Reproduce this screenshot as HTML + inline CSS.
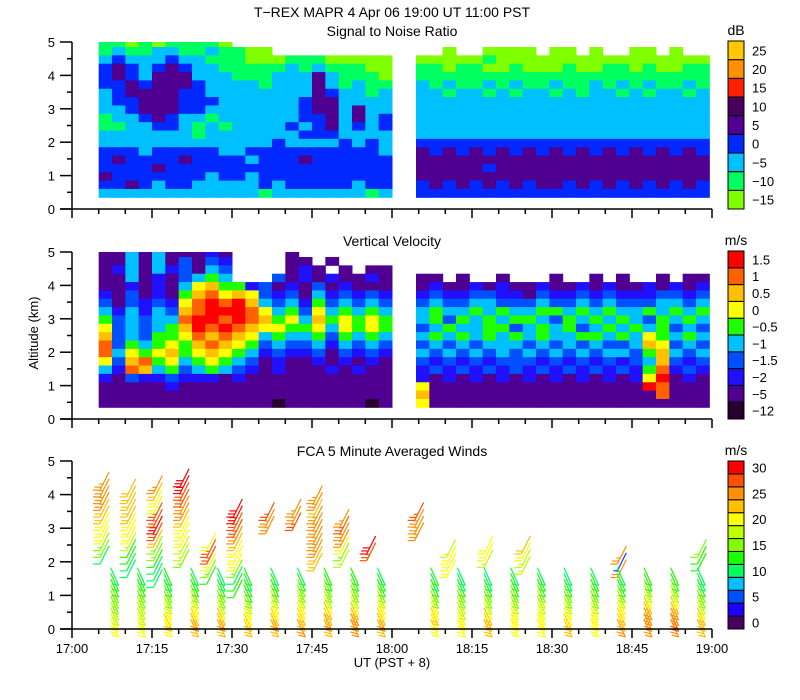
<!DOCTYPE html>
<html><head><meta charset="utf-8">
<style>
body{margin:0;background:#fff;}
svg{display:block;font-family:"Liberation Sans",Arial,sans-serif;}
text{fill:#000;}
</style></head>
<body>
<svg id="chart" width="800" height="700" viewBox="0 0 800 700" xmlns="http://www.w3.org/2000/svg">
<text x="392" y="17" font-size="14" text-anchor="middle">T−REX   MAPR   4 Apr 06   19:00 UT   11:00   PST</text>
<text x="392" y="36" font-size="14" text-anchor="middle">Signal to Noise Ratio</text>
<text x="392" y="246" font-size="14" text-anchor="middle">Vertical Velocity</text>
<text x="392" y="456" font-size="14" text-anchor="middle">FCA 5 Minute Averaged Winds</text>
<text transform="translate(38,333) rotate(-90)" font-size="13" text-anchor="middle">Altitude (km)</text>
<text x="392" y="667" font-size="13" text-anchor="middle">UT  (PST + 8)</text>
<g id="layer"></g>
</svg>
<script>
// ---- data ----
const xTickLabels = ["17:00","17:15","17:30","17:45","18:00","18:15","18:30","18:45","19:00"];
const yTickLabels = ["0","1","2","3","4","5"];
const snrLevels = ["−15","−10","−5","0","5","10","15","20","25"];
const snrColors = ["#80ff00","#00ff60","#00c0ff","#0028ff","#500090","#480060","#ff2000","#ff9000","#ffc800"];
const velLevels = ["−12","−5","−2","−1.5","−1","−0.5","0","0.5","1","1.5"];
const velColors = ["#280030","#500090","#2010ff","#0050ff","#00c0ff","#20ff00","#ffff00","#ffc000","#ff6000","#ff0000"];
const windLevels = ["0","5","10","15","20","25","30"];
const windColors = ["#480060","#2000ff","#0050ff","#00c0ff","#00ff60","#20ff00","#80ff00","#c0ff00","#ffff00","#ffc000","#ff9000","#ff5000","#ff0000"];

// heatmap grids: rows top (4.85 km) to bottom (0.35 km), each char a colour bin, 2.5-min columns from 17:05 (seg1) and 18:05 (seg2)
const snrSeg1 = [
"1101011110............",
"1211221121100.........",
"2322232211100011100000",
"3432343221111121211100",
"3432444222111222421110",
"3343444322221222421211",
"2344443322222222432212",
"2334443332222223442222",
"2234443322222223442422",
"1223432212222223342423",
"1122332121222232342323",
"2222222122222223332222",
"2222222222222322223232",
"3332333332233333333332",
"3433334333323334333333",
"3333433333333333333333",
"4333333323323333333333",
"3343233222223233333233",
"2222222222221222222212"];
const snrSeg2 = [
"......................",
"..0..0000.00.0..00.0..",
"0000010000000000000000",
"1101100100010011010011",
"1111111111111111111111",
"2121121211211212121121",
"2212212122121221212212",
"2222222222222222222222",
"2222222222222222222222",
"2222222222222222222222",
"2222222222222222222222",
"2222222222222222222222",
"3333333333333333333333",
"4343434343434343434343",
"4444444444444444444444",
"4444434444444444444444",
"4444444444444444444444",
"3434343434434343434343",
"3333333333333333333333"];
const velSeg1 = [
"1141411121....1.......",
"1141413132....11.1....",
"1241423143....121.1.11",
"1141213454...312121121",
"1121214675523121312111",
"2131215786763231423232",
"3132326898974342534343",
"4242437899986453645454",
"5343448998987564756565",
"6343457989876655646565",
"7343556878764544535454",
"8354565787653433424343",
"8465675676542322313232",
"6378564565431211212121",
"4287453454321211121211",
"2132232221211111111111",
"1111121111111111111111",
"1111111111111111111111",
"1111111111111011111101"];
const velSeg2 = [
"......................",
"......................",
"......................",
"11.1..1...1..1.1..1.11",
"1211212112112121121212",
"2322332213223232223323",
"3433443334334343334434",
"4544545445545454454545",
"4535454554354545435454",
"3454455345453454545343",
"4545454545445545465454",
"3434344434343433476343",
"4343434343434344357434",
"3232323332323232347323",
"2323232323232323258232",
"2121212121212121269121",
"6111111111111111198111",
"7111111111111111118111",
"6111111111111111111111"];

// wind barbs (minutes after 17:00, base altitude km, speeds m/s every 0.2 km)
const upperTimes = [6, 11, 16, 21, 26, 31, 37, 42, 46, 51, 56, 65, 71, 78, 85, 103, 118];
const upperBase = [2.2, 1.8, 1.5, 2.1, 1.6, 1.2, 3.1, 3.2, 2.0, 2.1, 2.3, 2.9, 1.8, 2.1, 1.9, 1.8, 2.0];
const upperSpeeds = [
[10,15,16,20,22,22,24,24,25,26,26,25],
[10,10,13,14,18,20,22,22,23,23,24,23,24],
[10,10,12,14,16,17,24,28,30,29,28,20,22,24,25],
[17,18,18,20,21,22,24,26,26,28,29,30,30],
[14,16,22,28,28,22],
[13,14,10,16,20,22,22,24,26,28,29,30,30],
[25,27,28],
[28,26,27],
[24,24,25,25,26,26,25,25,24,26,27],
[18,17,20,25,26,28,27],
[29,30],
[25,26,27,28],
[20,20,21,18],
[19,20,22],
[18,19,22,24],
[25,5,25],
[14,14,15]];
const lowerTimes = [8,13,18,23,28,33,38,43,48,53,58,68,73,78,83,88,93,98,103,108,113,118];
const lowerSpeeds = [
[20,21,19,18,17,16,15,14,13,12],
[21,20,19,18,18,17,16,14,13,12],
[22,23,22,20,18,17,15,13,12,13],
[24,25,24,22,20,18,16,14,13,12],
[24,25,23,21,19,17,15,13,10,12],
[23,24,22,20,18,16,14,13,12,13],
[24,25,24,22,21,19,16,14,13,12],
[25,24,23,22,20,18,17,15,13,12],
[24,25,24,23,21,19,17,15,14,13],
[25,26,25,23,21,19,17,15,14,13],
[24,25,24,22,20,18,16,14,13,12],
[21,22,23,22,20,17,15,13,12,13],
[22,21,20,19,18,17,15,13,12,12],
[23,24,23,21,19,17,15,14,12,11],
[21,22,21,20,19,17,16,14,13,12],
[20,21,21,20,19,18,16,14,13,12],
[24,23,22,21,19,17,15,13,12,12],
[21,22,21,20,19,17,16,14,13,12],
[25,24,23,22,20,18,16,14,13,10],
[25,26,27,26,24,21,18,16,14,13],
[27,28,27,25,23,21,18,16,14,13],
[23,24,23,21,19,17,15,13,12,12]];

// ---- helpers ----
const NS = "http://www.w3.org/2000/svg";
const layer = document.getElementById("layer");
const X0 = 72, X1 = 712;
const xScale = m => X0 + m * (X1 - X0) / 120;
const panels = [{y0:209,y5:42},{y0:419,y5:252},{y0:629,y5:461}];
const yScale = (p, km) => p.y0 + km * (p.y5 - p.y0) / 5;
function mk(tag, attrs, parent){
  const el = document.createElementNS(NS, tag);
  for (const k in attrs) el.setAttribute(k, attrs[k]);
  (parent || layer).appendChild(el);
  return el;
}

// heatmaps
function heat(p, seg, startMin, colors, name){
  const g = mk("g", {});
  
  
  seg.forEach((row, r) => {
    const kmTop = 5.1 - r * 0.25;
    const kmBot = Math.max(kmTop - 0.25, 0.35);
    const topK = Math.min(kmTop, 5);
    for (let c = 0; c < row.length; c++) {
      const ch = row[c];
      if (ch === ".") continue;
      const xa = xScale(startMin + c * 2.5), xb = xScale(startMin + (c + 1) * 2.5);
      const ya = yScale(p, topK), yb = yScale(p, kmBot);
      const cell = mk("rect", {x: xa, y: ya, width: xb - xa + 0.5, height: yb - ya + 0.5, fill: colors[+ch]}, g);
      
      
    }
  });
}
heat(panels[0], snrSeg1, 5, snrColors, "snr-segment-1");
heat(panels[0], snrSeg2, 64.5, snrColors, "snr-segment-2");
heat(panels[1], velSeg1, 5, velColors, "velocity-segment-1");
heat(panels[1], velSeg2, 64.5, velColors, "velocity-segment-2");

// wind barbs
function windColor(s){ return windColors[Math.min(12, Math.max(0, Math.floor(s / 2.5)))]; }
function barb(x, y, s, up){
  const col = windColor(s);
  const g = mk("g", {stroke: col, "stroke-width": 1.2, fill: "none"});
  
  
  const dx = up ? 9 : 8, dy = 18;
  const ex = up ? x + dx : x - dx, ey = y - dy;
  mk("line", {x1: x, y1: y, x2: ex, y2: ey}, g);
  const full = Math.floor(s / 10), half = (s % 10) >= 5 ? 1 : 0;
  for (let i = 0; i < full + half; i++) {
    const t = i * 0.17;
    const bx = x + (ex - x) * t, by = y + (ey - y) * t;
    const len = i < full ? 7 : 4;
    mk("line", {x1: bx, y1: by, x2: bx - len, y2: by + (up ? 0 : -2)}, g);
  }
}
upperTimes.forEach((t, i) => {
  upperSpeeds[i].forEach((s, k) => {
    barb(xScale(t) - 4, yScale(panels[2], upperBase[i] + k * 0.2) + 9, s, true);
  });
});
lowerTimes.forEach((t, i) => {
  lowerSpeeds[i].forEach((s, k) => {
    barb(xScale(t) + 4, yScale(panels[2], k * 0.17) + 8, s, false);
  });
});

// axes
panels.forEach((p, pi) => {
  const g = mk("g", {stroke: "#000", "stroke-width": 1.5});
  
  
  mk("line", {x1: X0, y1: p.y5, x2: X0, y2: p.y0}, g);
  mk("line", {x1: X0 - 12, y1: p.y0, x2: X1, y2: p.y0}, g);
  for (let h = 0; h <= 10; h++) {
    const y = yScale(p, h * 0.5);
    mk("line", {x1: X0 - (h % 2 ? 5 : 12), y1: y, x2: X0, y2: y}, g);
  }
  for (let m = 0; m <= 120; m += 5) {
    const x = xScale(m);
    mk("line", {x1: x, y1: p.y0, x2: x, y2: p.y0 + (m % 15 ? 5 : 9)}, g);
  }
  yTickLabels.forEach((lab, k) => {
    const tx = mk("text", {x: 55, y: yScale(p, k) + 5, "font-size": 13, "text-anchor": "end"});
    
    
    tx.textContent = lab;
  });
});
xTickLabels.forEach((lab, k) => {
  const tx = mk("text", {x: xScale(k * 15), y: 653, "font-size": 13, "text-anchor": "middle"});
  
  
  tx.textContent = lab;
});

// colorbars
function colorbar(top, bot, colors, labels, unit, every, name){
  const g = mk("g", {});
  
  
  const n = colors.length, h = (bot - top) / n;
  colors.forEach((c, i) => {
    const r = mk("rect", {x: 728, y: bot - (i + 1) * h, width: 16, height: h, fill: c, stroke: "#000", "stroke-width": 1}, g);
    
    
  });
  labels.forEach((lab, k) => {
    const yc = bot - (k * every + 0.5) * h;
    const t = mk("text", {x: 752, y: yc + 5, "font-size": 13}, g);
    
    
    t.textContent = lab;
  });
  const u = mk("text", {x: 736, y: top - 6, "font-size": 14, "text-anchor": "middle"}, g);
  
  
  u.textContent = unit;
}
colorbar(41, 209, snrColors, snrLevels, "dB", 1, "snr-colorbar");
colorbar(251, 419, velColors, velLevels, "m/s", 1, "velocity-colorbar");
colorbar(461, 629, windColors, windLevels, "m/s", 2, "wind-colorbar");
</script>
</body></html>
